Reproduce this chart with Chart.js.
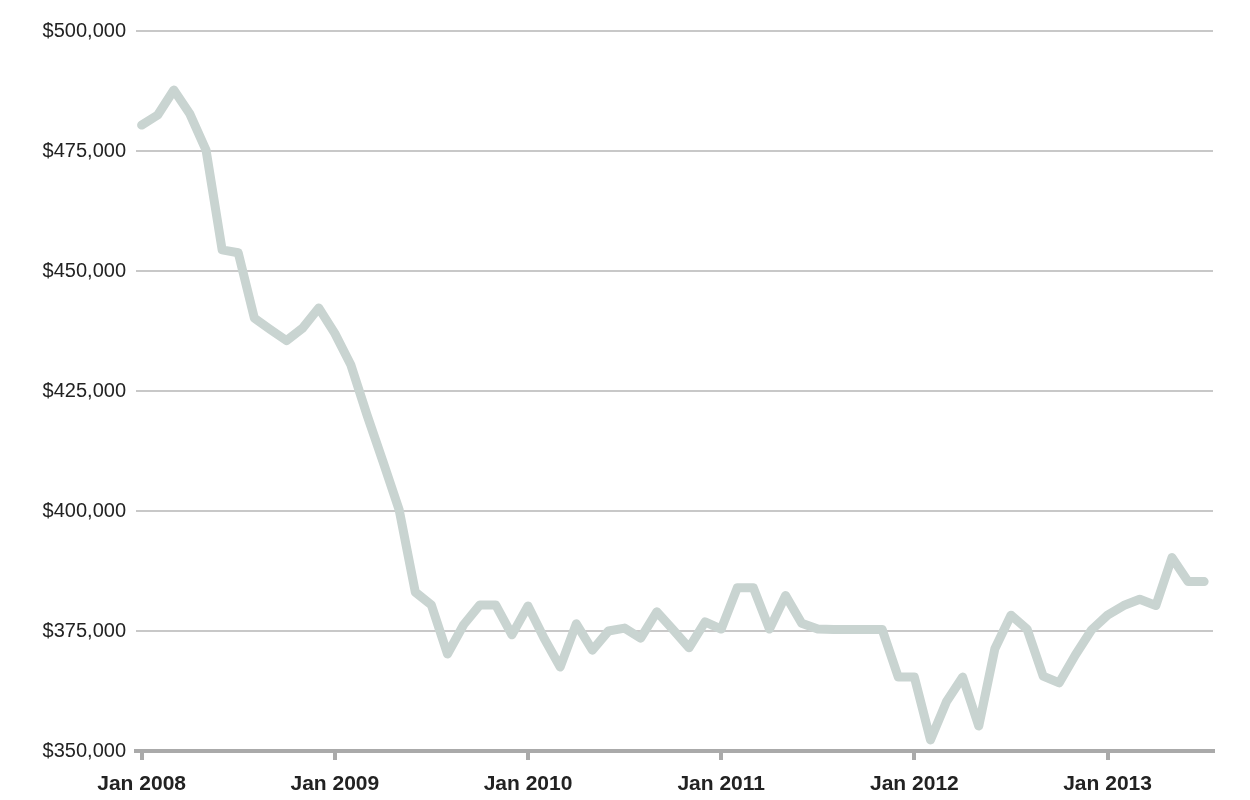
<!DOCTYPE html>
<html lang="en">

<head>
    <meta charset="UTF-8">
    <title>Median price</title>
    <style>
        html, body { margin: 0; padding: 0; background: #fff; }
        #wrap { width: 1250px; height: 800px; }
    </style>
</head>

<body>
    <div id="wrap">
        <canvas id="myChart" width="1250" height="800"></canvas>
    </div>

    <script src="https://cdn.jsdelivr.net/npm/chart.js"></script>
    <script>
        // monthly values, Jan 2008 .. Jul 2013
        const prices = [
            480400, 482500, 487700, 482700, 475200, 454400, 453800, 440200, 437800, 435500, 438100, 442300,
            437000, 430400, 420000, 410200, 400200, 383100, 380400, 370200, 376300, 380400, 380400, 374200,
            380200, 373500, 367500, 376500, 371000, 375000, 375600, 373500, 379000, 375300, 371500, 376900,
            375400, 384000, 384000, 375400, 382400, 376600, 375400, 375300, 375300, 375300, 375300, 365400,
            365400, 352300, 360300, 365400, 355200, 371300, 378300, 375400, 365600, 364200, 370000, 375200,
            378300, 380300, 381600, 380300, 390300, 385300, 385300
        ];
        // month index of each january tick and its label
        const yearTickIndex = [0, 12, 24, 36, 48, 60];
        const yearTickLabels = ['Jan 2008', 'Jan 2009', 'Jan 2010', 'Jan 2011', 'Jan 2012', 'Jan 2013'];

        const yMin = 350000;
        const yMax = 500000;
        const yStep = 25000;

        const points = prices.map((v, i) => ({ x: i, y: v }));

        const ctx = document.getElementById('myChart').getContext('2d');
        const myChart = new Chart(ctx, {
            type: 'line',
            data: {
                datasets: [{
                    data: points,
                    borderColor: '#c9d4d1',
                    borderWidth: 9,
                    borderJoinStyle: 'round',
                    borderCapStyle: 'round',
                    pointRadius: 0,
                    tension: 0,
                    fill: false
                }]
            },
            options: {
                responsive: false,
                animation: false,
                layout: { padding: { top: 31, right: 37, bottom: 0, left: 0 } },
                plugins: {
                    legend: { display: false },
                    tooltip: { enabled: false }
                },
                scales: {
                    x: {
                        type: 'linear',
                        min: -0.35,
                        max: 66.55,
                        afterBuildTicks: scale => {
                            scale.ticks = yearTickIndex.map(v => ({ value: v }));
                        },
                        afterFit: scale => { scale.height = 49; },
                        ticks: {
                            callback: value => yearTickLabels[yearTickIndex.indexOf(value)],
                            color: '#222',
                            font: { family: 'Liberation Sans, Arial, sans-serif', size: 21, weight: 'bold' },
                            padding: 12,
                            maxRotation: 0
                        },
                        grid: {
                            drawOnChartArea: false,
                            drawTicks: true,
                            tickLength: 9,
                            tickColor: '#aaaaaa',
                            tickWidth: 4,
                            lineWidth: 4
                        },
                        border: { display: true, color: '#aaaaaa', width: 4 }
                    },
                    y: {
                        min: yMin,
                        max: yMax,
                        afterFit: scale => { scale.width = 136; },
                        ticks: {
                            stepSize: yStep,
                            callback: value => '$' + value.toLocaleString('en-US'),
                            color: '#222',
                            font: { family: 'Liberation Sans, Arial, sans-serif', size: 20 },
                            padding: 10
                        },
                        grid: {
                            color: '#c8c8c8',
                            lineWidth: 2,
                            drawTicks: false
                        },
                        border: { display: false }
                    }
                }
            }
        });
    </script>
</body>

</html>
